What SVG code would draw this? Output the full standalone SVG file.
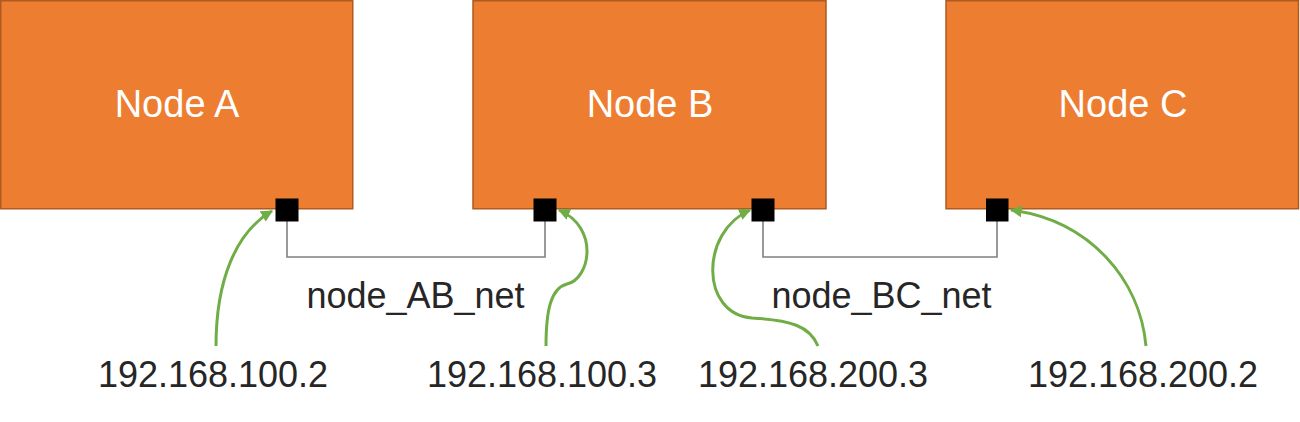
<svg xmlns="http://www.w3.org/2000/svg" width="1300" height="422" viewBox="0 0 1300 422">
<style>
.box{fill:#ED7D31;stroke:#AE5A21;stroke-width:1.5}
.nl{font-family:"Liberation Sans","Noto Sans",sans-serif;font-size:38px;fill:#FFFFFF;text-anchor:middle}
.lbl{font-family:"Liberation Sans","Noto Sans",sans-serif;font-size:36px;fill:#262626;text-anchor:middle}
.port{fill:#000000}
.net{fill:none;stroke:#808080;stroke-width:1.6}
.ip{fill:none;stroke:#70AD47;stroke-width:3}
</style>
<defs>
<marker id="ah" viewBox="0 0 10 10" refX="9" refY="5" markerWidth="4" markerHeight="4" orient="auto" markerUnits="strokeWidth">
<path d="M0,0 L10,5 L0,10 z" fill="#70AD47"/>
</marker>
</defs>
<g id="nodeA">
<rect class="box" x="0.75" y="0.75" width="352" height="208"/>
<text class="nl" x="177" y="117">Node A</text>
</g>
<g id="nodeB">
<rect class="box" x="473" y="0.75" width="353" height="208"/>
<text class="nl" x="650" y="117">Node B</text>
</g>
<g id="nodeC">
<rect class="box" x="946" y="0.75" width="352.5" height="208"/>
<text class="nl" x="1123" y="117">Node C</text>
</g>
<g id="connectors">
<path class="net" d="M287,210 V257 H545 V210"/>
<path class="net" d="M763,210 V257 H997 V210"/>
<path class="ip" d="M216,346 C216,280 236,232 272,211" marker-end="url(#ah)"/>
<path class="ip" d="M546,346 C546,310 551,288 567,284 C590,279 600,228 559,210" marker-end="url(#ah)"/>
<path class="ip" d="M818,346 C810,326 790,320 752,318 C700,314 700,232 750,210" marker-end="url(#ah)"/>
<path class="ip" d="M1146,346 C1140,280 1090,220 1011,210" marker-end="url(#ah)"/>
</g>
<g id="ports">
<rect class="port" x="275.5" y="198.5" width="23" height="23"/>
<rect class="port" x="533.5" y="198.5" width="23" height="23"/>
<rect class="port" x="751.5" y="198.5" width="23" height="23"/>
<rect class="port" x="986" y="198.5" width="22.5" height="23"/>
</g>
<g id="labels">
<text class="lbl" x="415.5" y="308">node_AB_net</text>
<text class="lbl" x="881.5" y="308">node_BC_net</text>
<text class="lbl" x="213" y="387">192.168.100.2</text>
<text class="lbl" x="542" y="387">192.168.100.3</text>
<text class="lbl" x="813" y="387">192.168.200.3</text>
<text class="lbl" x="1143" y="387">192.168.200.2</text>
</g>
</svg>
